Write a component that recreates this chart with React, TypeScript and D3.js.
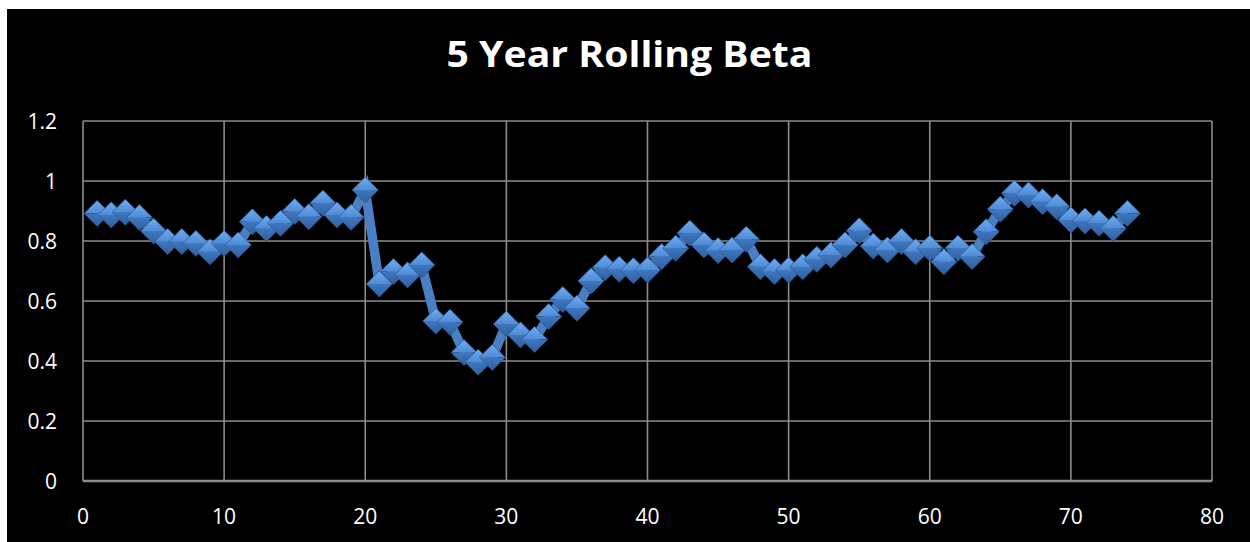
import React from "react";
import * as d3 from "d3";

const title = "5 Year Rolling Beta";
const periods = d3.range(1, 75);
const betaValues = [
  0.892, 0.887, 0.896, 0.878, 0.833, 0.798, 0.798, 0.792, 0.764, 0.792,
  0.787, 0.864, 0.842, 0.859, 0.898, 0.881, 0.926, 0.887, 0.879, 0.97,
  0.657, 0.698, 0.687, 0.72, 0.533, 0.529, 0.428, 0.396, 0.412, 0.523,
  0.487, 0.472, 0.548, 0.605, 0.576, 0.667, 0.711, 0.706, 0.701, 0.703,
  0.748, 0.776, 0.826, 0.787, 0.768, 0.77, 0.806, 0.714, 0.698, 0.703,
  0.714, 0.739, 0.753, 0.787, 0.834, 0.783, 0.77, 0.798, 0.764, 0.776,
  0.731, 0.776, 0.748, 0.831, 0.906, 0.959, 0.953, 0.931, 0.914, 0.87,
  0.867, 0.859, 0.842, 0.892,
];
const xTicks = [0, 10, 20, 30, 40, 50, 60, 70, 80];
const yTicks = [0, 0.2, 0.4, 0.6, 0.8, 1, 1.2];

const W = 1250;
const H = 542;

export default function App() {
  const x = d3.scaleLinear().domain([0, 80]).range([83, 1212]);
  const y = d3.scaleLinear().domain([0, 1.2]).range([481, 121]);
  const data = periods.map((p, i) => ({ p, v: betaValues[i] }));
  const line = d3
    .line<{ p: number; v: number }>()
    .x((d) => x(d.p))
    .y((d) => y(d.v));
  const r = 13;
  const fmt = (v: number) => (v === 0 ? "0" : v === 1 ? "1" : d3.format(".1f")(v));
  return (
    <svg
      width={W}
      height={H}
      style={{ position: "absolute", left: 0, top: 0, display: "block" }}
    >
      <defs>
        <linearGradient id="topG" x1="0" y1="0" x2="0" y2="1">
          <stop offset="0" stopColor="#70acf2" />
          <stop offset="1" stopColor="#4f8bd6" />
        </linearGradient>
        <linearGradient id="botG" x1="0" y1="0" x2="0" y2="1">
          <stop offset="0" stopColor="#3f77bf" />
          <stop offset="1" stopColor="#2f5f9e" />
        </linearGradient>
      </defs>
      <rect x={0} y={0} width={W} height={H} fill="#ffffff" />
      <rect x={7} y={9} width={W - 7} height={H - 9} fill="#000000" />
      <text
        x={629.5}
        y={67}
        textAnchor="middle"
        fill="#ffffff"
        fontFamily="'Open Sans', sans-serif"
        fontWeight={700}
        fontSize={35}
        textLength={366}
        lengthAdjust="spacingAndGlyphs"
      >
        {title}
      </text>
      {yTicks.map((t) => (
        <line
          key={"gy" + t}
          x1={x(0)}
          x2={x(80)}
          y1={y(t)}
          y2={y(t)}
          stroke="#8c8c8c"
          strokeWidth={t === 0 ? 2.5 : 1.6}
        />
      ))}
      {xTicks.map((t) => (
        <line
          key={"gx" + t}
          x1={x(t)}
          x2={x(t)}
          y1={y(1.2)}
          y2={y(0)}
          stroke="#8c8c8c"
          strokeWidth={1.6}
        />
      ))}
      {yTicks.map((t) => (
        <text
          key={"ty" + t}
          x={57}
          y={y(t) + 7.5}
          textAnchor="end"
          fill="#ffffff"
          fontFamily="'Open Sans', sans-serif"
          fontSize={21}
        >
          {fmt(t)}
        </text>
      ))}
      {xTicks.map((t) => (
        <text
          key={"tx" + t}
          x={x(t)}
          y={524}
          textAnchor="middle"
          fill="#ffffff"
          fontFamily="'Open Sans', sans-serif"
          fontSize={21}
        >
          {t}
        </text>
      ))}
      <path
        d={line(data) || ""}
        fill="none"
        stroke="#4a7fc3"
        strokeWidth={9.5}
        strokeLinejoin="miter"
      />
      {data.map((d) => {
        const cx = x(d.p);
        const cy = y(d.v);
        return (
          <g key={d.p}>
            <path
              d={`M${cx - r},${cy} L${cx},${cy - r} L${cx + r},${cy} Z`}
              fill="url(#topG)"
            />
            <path
              d={`M${cx - r},${cy} L${cx + r},${cy} L${cx},${cy + r} Z`}
              fill="url(#botG)"
            />
            <path
              d={`M${cx - r},${cy} L${cx},${cy - r} L${cx + r},${cy} L${cx},${cy + r} Z`}
              fill="none"
              stroke="#2c5a94"
              strokeWidth={0.8}
            />
          </g>
        );
      })}
    </svg>
  );
}
